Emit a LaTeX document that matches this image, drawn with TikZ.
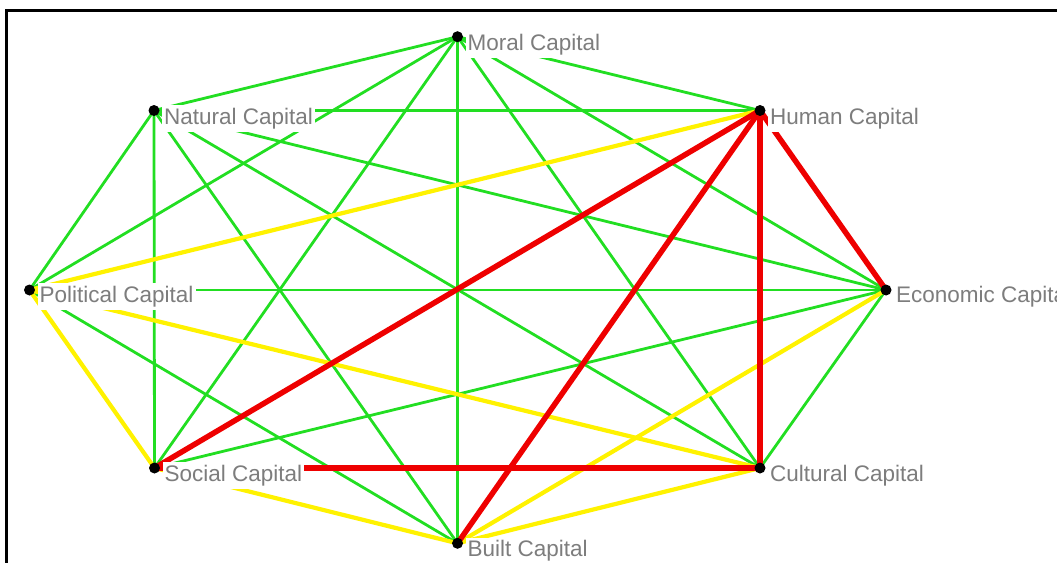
\documentclass[tikz,border=0pt]{standalone}
\usepackage{fontspec}
\setmainfont{Liberation Sans}
\definecolor{eg}{RGB}{34,222,34}
\definecolor{ey}{RGB}{255,242,0}
\definecolor{er}{RGB}{238,0,0}
\definecolor{lg}{RGB}{125,125,125}
\begin{document}
\begin{tikzpicture}[x=1pt,y=-1pt,
  g/.style={draw=eg, line width=2.8pt},
  yl/.style={draw=ey, line width=4.2pt},
  rd/.style={draw=er, line width=5.5pt},
  lbl/.style={anchor=base west, fill=white, text=lg, inner xsep=2pt, inner ysep=3pt, font=\fontsize{22.5}{27}\selectfont},
  dot/.style={circle, fill=black, minimum size=11pt, inner sep=0pt}]
\useasboundingbox (0,0) rectangle (1057,562);
\clip (0,0) rectangle (1057,562);
\draw[line width=2.2pt] (6.5,10.5) rectangle (1080,590);
% positions
\coordinate (M) at (457.5,36.7);
\coordinate (N) at (154,110.5);
\coordinate (H) at (760,110.5);
\coordinate (P) at (29.5,290);
\coordinate (E) at (886,290);
\coordinate (S) at (154.5,468);
\coordinate (C) at (760,468);
\coordinate (B) at (457.5,543.3);
% green edges
\draw[g] (M) -- (N);
\draw[g] (M) -- (H);
\draw[g] (M) -- (P);
\draw[g] (M) -- (E);
\draw[g] (M) -- (S);
\draw[g] (M) -- (C);
\draw[g] (M) -- (B);
\draw[g] (N) -- (H);
\draw[g] (N) -- (P);
\draw[g] (N) -- (E);
\draw[g] (N) -- (S);
\draw[g] (N) -- (C);
\draw[g] (N) -- (B);
\draw[g] (P) -- (E);
\draw[g] (P) -- (B);
\draw[g] (E) -- (S);
\draw[g] (E) -- (C);
% yellow edges
\draw[yl] (H) -- (P);
\draw[yl] (P) -- (S);
\draw[yl] (P) -- (C);
\draw[yl] (E) -- (B);
\draw[yl] (S) -- (B);
\draw[yl] (C) -- (B);
% red edges
\draw[rd] (H) -- (E);
\draw[rd] (H) -- (S);
\draw[rd] (H) -- (C);
\draw[rd] (H) -- (B);
\draw[rd] (S) -- (C);
% labels
\node[lbl] (lM) at ([shift={(8,13.5)}]M) {Moral Capital};
\node[lbl] (lN) at ([shift={(8,13.5)}]N) {Natural Capital};
\node[lbl] (lH) at ([shift={(8,13.5)}]H) {Human Capital};
\node[lbl] (lP) at ([shift={(8,12)}]P) {Political Capital};
\node[lbl] (lE) at ([shift={(8,12.5)}]E) {Economic Capital};
\node[lbl] (lS) at ([shift={(8,13.5)}]S) {Social Capital};
\node[lbl] (lC) at ([shift={(8,13.5)}]C) {Cultural Capital};
\node[lbl] (lB) at ([shift={(8,13.5)}]B) {Built Capital};
% dots
\foreach \p in {M,N,H,P,E,S,C,B} \node[dot] (d\p) at (\p) {};
\end{tikzpicture}
\end{document}
